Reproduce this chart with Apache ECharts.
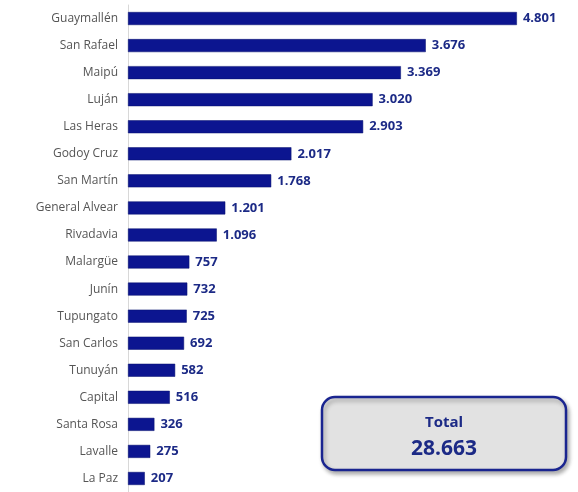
<!DOCTYPE html>
<html><head><meta charset="utf-8">
<script src="https://cdn.jsdelivr.net/npm/echarts@6/dist/echarts.min.js"></script>
<style>html,body{margin:0;padding:0;background:#fff}#c{width:578px;height:492px}</style>
</head><body><div id="c"></div>
<script>
const categories = ["Guaymallén","San Rafael","Maipú","Luján","Las Heras","Godoy Cruz","San Martín","General Alvear","Rivadavia","Malargüe","Junín","Tupungato","San Carlos","Tunuyán","Capital","Santa Rosa","Lavalle","La Paz"];
const values = [4801,3676,3369,3020,2903,2017,1768,1201,1096,757,732,725,692,582,516,326,275,207];
const totalLabel = "Total";
const totalValue = "28.663";
const fmt = v => String(v).replace(/\B(?=(\d{3})+(?!\d))/g, ".");
const chart = echarts.init(document.getElementById('c'));
chart.setOption({
  backgroundColor: '#ffffff',
  animation: false,
  grid: {left: 128, top: 5, width: 405, height: 491, containLabel: false},
  xAxis: {type: 'value', min: 0, max: 5000, show: false},
  yAxis: {type: 'category', data: categories, inverse: true,
    axisLine: {show: true, lineStyle: {color: '#d8d8d8', width: 1}},
    axisTick: {show: false},
    axisLabel: {color: '#555', fontSize: 12, fontFamily: 'Open Sans', margin: 10}},
  series: [{type: 'bar', data: values, barWidth: 13,
    itemStyle: {color: '#0c1590', borderColor: '#06106e', borderWidth: 0.5},
    label: {show: true, position: 'right', distance: 6, formatter: p => fmt(p.value),
      color: '#1c2a86', fontWeight: 'bold', fontSize: 13, fontFamily: 'Open Sans'}}],
  graphic: [
    {type: 'rect', shape: {x: 322, y: 397, width: 244, height: 73, r: 13},
      style: {fill: '#e2e2e2', stroke: '#1a2590', lineWidth: 2.5,
        shadowBlur: 4, shadowOffsetX: 2, shadowOffsetY: 3, shadowColor: 'rgba(0,0,0,0.3)'}},
    {type: 'text', x: 444, y: 423, style: {text: totalLabel, fill: '#1c2a86', font: 'bold 15px "Open Sans"', align: 'center', verticalAlign: 'middle'}},
    {type: 'text', x: 444, y: 449, style: {text: totalValue, fill: '#1c2a86', font: 'bold 21px "Open Sans"', align: 'center', verticalAlign: 'middle'}}
  ]
});
</script></body></html>
